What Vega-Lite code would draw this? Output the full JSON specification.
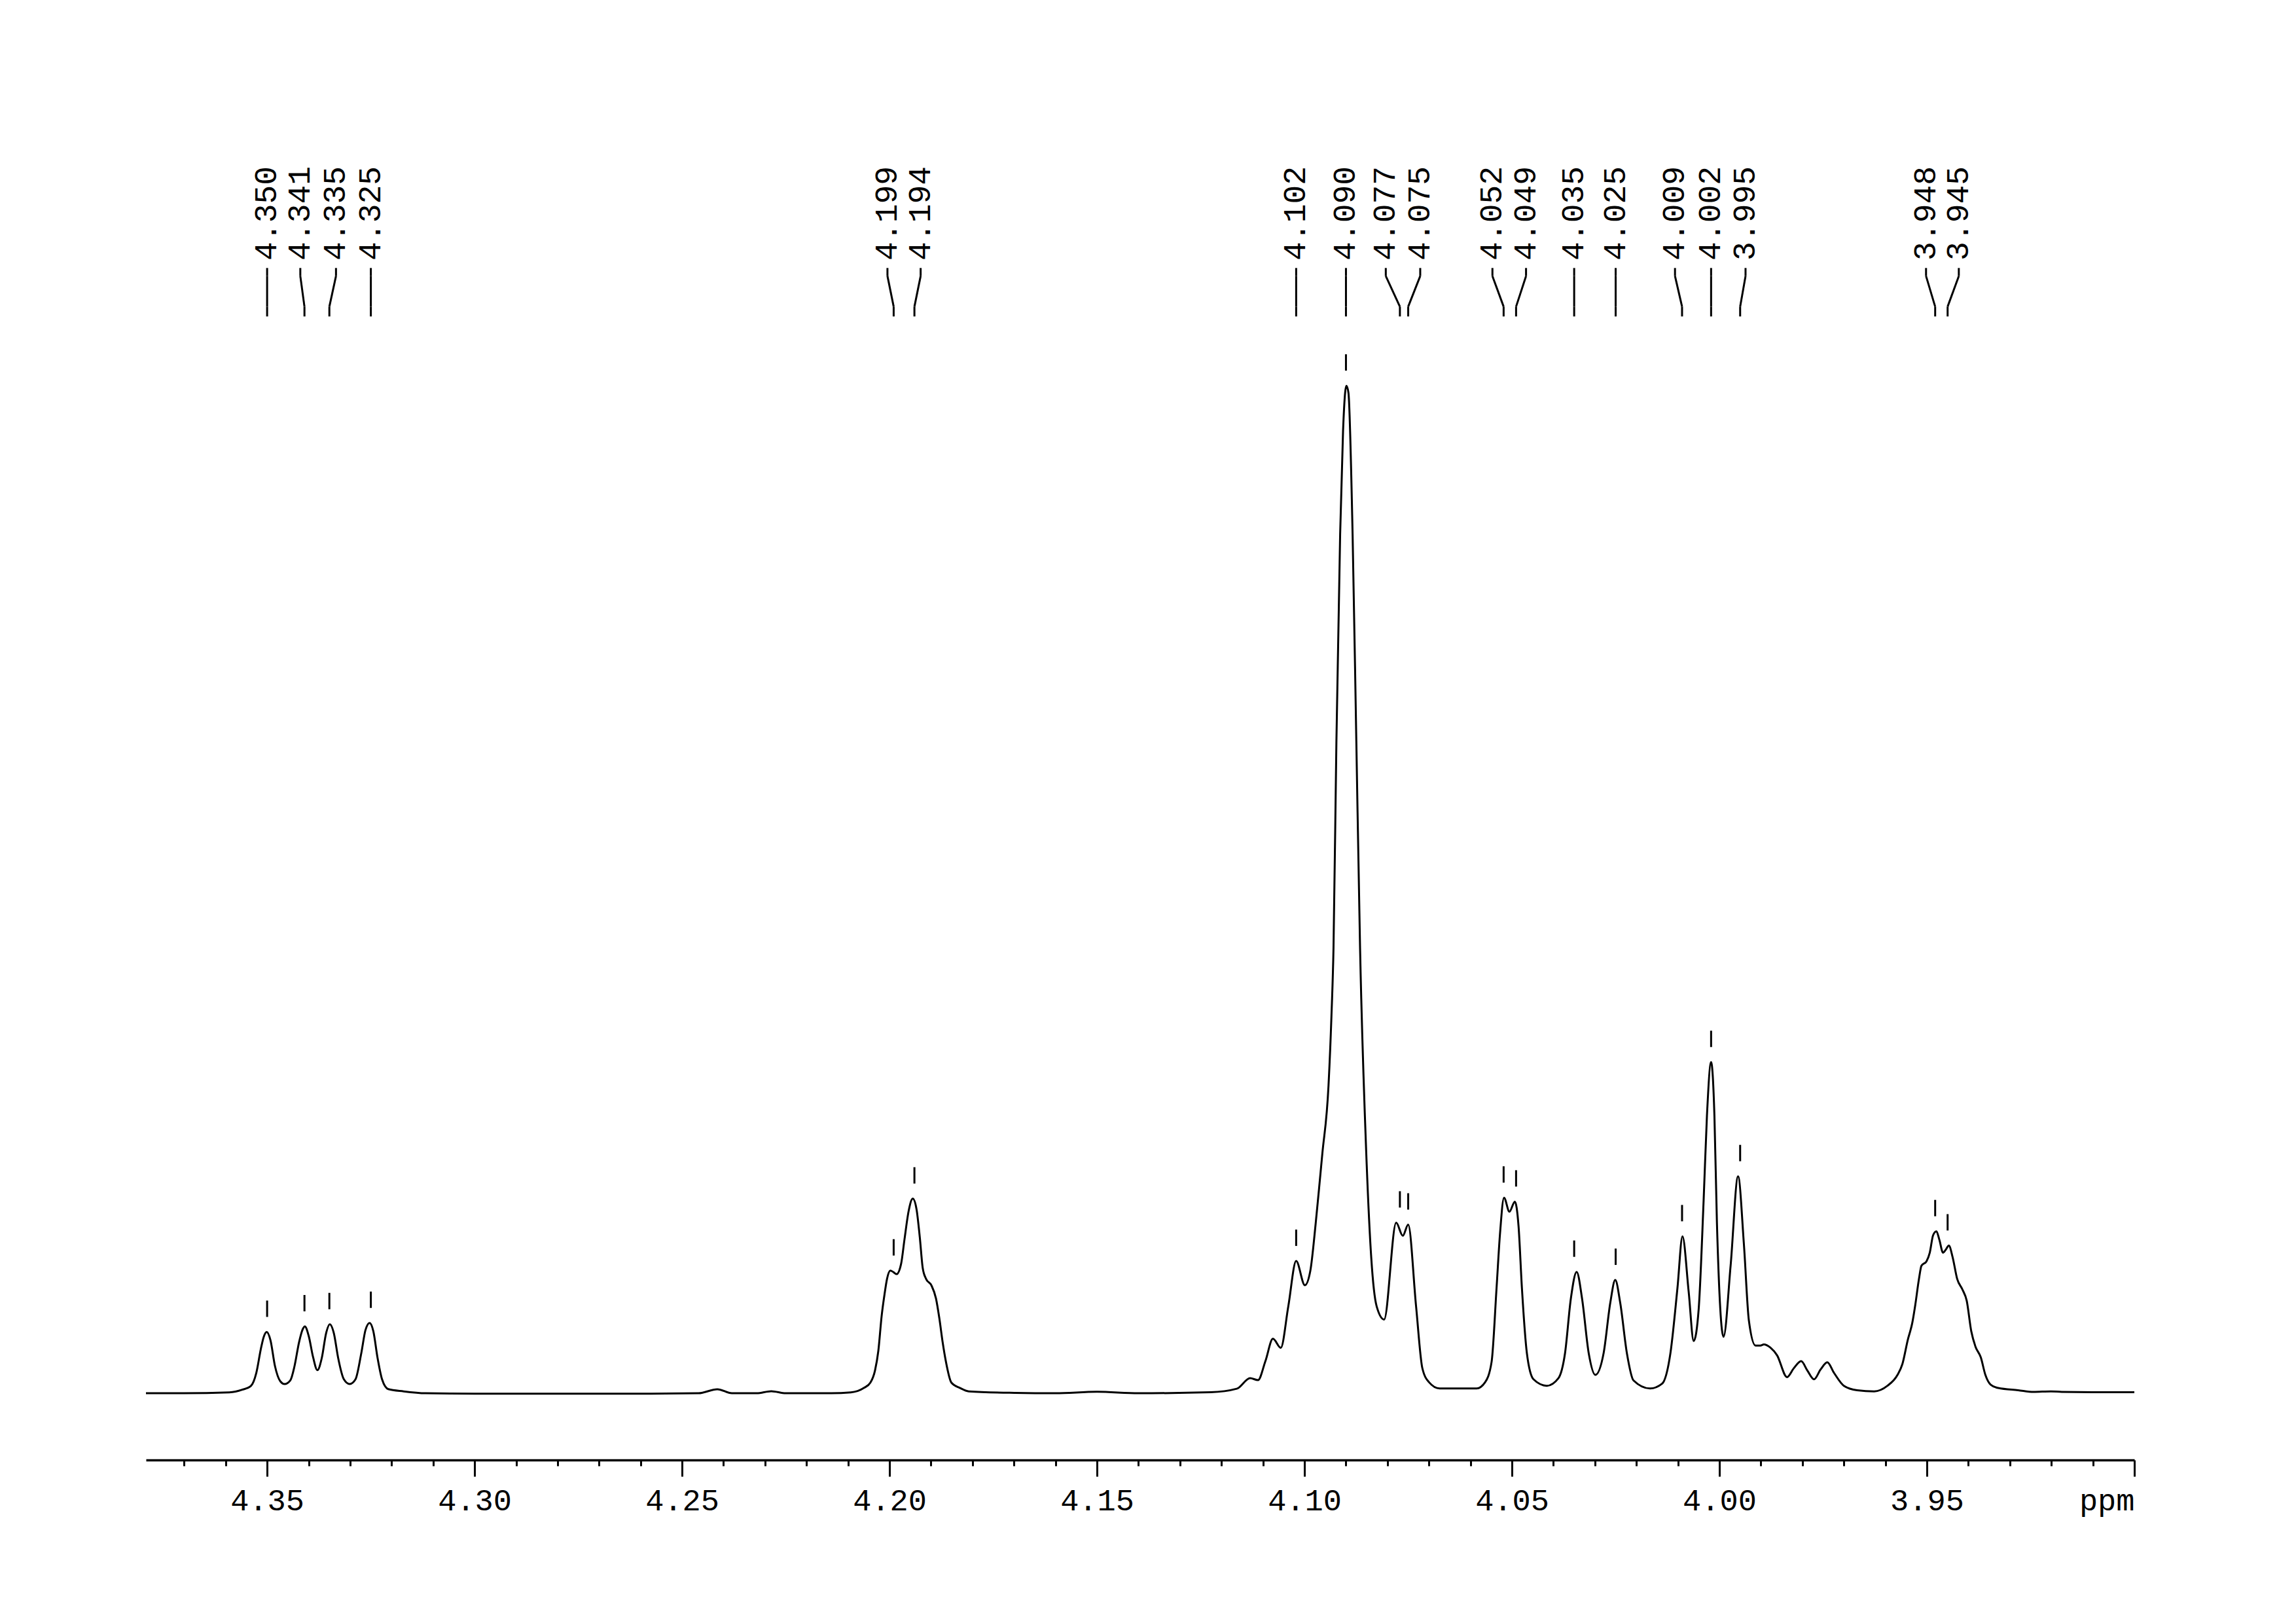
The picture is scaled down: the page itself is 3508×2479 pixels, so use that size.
{
  "$schema": "https://vega.github.io/schema/vega-lite/v6.json",
  "width": 3038,
  "height": 2130,
  "autosize": {"type": "none"},
  "padding": {"left": 223, "top": 100, "right": 247, "bottom": 249},
  "background": "white",
  "config": {"view": {"stroke": null}},
  "datasets": {
    "spectrum": [
      {"ppm": 4.3792, "i": 0.0}, {"ppm": 4.370, "i": 0.0}, {"ppm": 4.3591, "i": 0.09}, {"ppm": 4.3560, "i": 0.35},
      {"ppm": 4.3539, "i": 0.73}, {"ppm": 4.3526, "i": 2.03}, {"ppm": 4.3515, "i": 4.41}, {"ppm": 4.3508, "i": 5.60},
      {"ppm": 4.3501, "i": 6.07}, {"ppm": 4.3492, "i": 5.27}, {"ppm": 4.3481, "i": 2.68}, {"ppm": 4.3468, "i": 1.17},
      {"ppm": 4.3458, "i": 0.91}, {"ppm": 4.3444, "i": 1.28}, {"ppm": 4.3434, "i": 2.68}, {"ppm": 4.3423, "i": 5.06},
      {"ppm": 4.3414, "i": 6.36}, {"ppm": 4.3409, "i": 6.62}, {"ppm": 4.3400, "i": 5.71}, {"ppm": 4.3389, "i": 3.54},
      {"ppm": 4.3379, "i": 2.29}, {"ppm": 4.3368, "i": 3.54}, {"ppm": 4.3358, "i": 5.92}, {"ppm": 4.3349, "i": 6.83},
      {"ppm": 4.3339, "i": 5.92}, {"ppm": 4.3329, "i": 3.54}, {"ppm": 4.3315, "i": 1.38}, {"ppm": 4.3301, "i": 0.91},
      {"ppm": 4.3287, "i": 1.38}, {"ppm": 4.3273, "i": 3.98}, {"ppm": 4.3263, "i": 6.25}, {"ppm": 4.3253, "i": 6.96},
      {"ppm": 4.3244, "i": 6.14}, {"ppm": 4.3234, "i": 3.54}, {"ppm": 4.3223, "i": 1.38}, {"ppm": 4.3208, "i": 0.41},
      {"ppm": 4.3171, "i": 0.19}, {"ppm": 4.3118, "i": 0.0}, {"ppm": 4.300, "i": -0.05}, {"ppm": 4.280, "i": -0.05},
      {"ppm": 4.260, "i": -0.05}, {"ppm": 4.246, "i": 0.0}, {"ppm": 4.2415, "i": 0.4}, {"ppm": 4.238, "i": 0.0},
      {"ppm": 4.232, "i": 0.0}, {"ppm": 4.2285, "i": 0.2}, {"ppm": 4.225, "i": 0.0}, {"ppm": 4.215, "i": 0.0},
      {"ppm": 4.2093, "i": 0.09}, {"ppm": 4.2062, "i": 0.52}, {"ppm": 4.2046, "i": 1.06}, {"ppm": 4.2035, "i": 2.25},
      {"ppm": 4.2027, "i": 4.19}, {"ppm": 4.2019, "i": 7.65}, {"ppm": 4.2012, "i": 9.81}, {"ppm": 4.2006, "i": 11.33},
      {"ppm": 4.1998, "i": 12.15}, {"ppm": 4.1990, "i": 11.98}, {"ppm": 4.1983, "i": 11.80}, {"ppm": 4.1972, "i": 12.84},
      {"ppm": 4.1964, "i": 15.22}, {"ppm": 4.1954, "i": 18.03}, {"ppm": 4.1944, "i": 19.28}, {"ppm": 4.1935, "i": 18.25},
      {"ppm": 4.1927, "i": 15.43}, {"ppm": 4.1920, "i": 12.41}, {"ppm": 4.1912, "i": 11.33}, {"ppm": 4.1899, "i": 10.68},
      {"ppm": 4.1888, "i": 9.38}, {"ppm": 4.1880, "i": 7.44}, {"ppm": 4.1872, "i": 5.06}, {"ppm": 4.1864, "i": 3.11},
      {"ppm": 4.1851, "i": 1.06}, {"ppm": 4.1830, "i": 0.52}, {"ppm": 4.1809, "i": 0.19}, {"ppm": 4.1699, "i": 0.04},
      {"ppm": 4.160, "i": 0.0}, {"ppm": 4.150, "i": 0.15}, {"ppm": 4.140, "i": 0.0}, {"ppm": 4.1226, "i": 0.1},
      {"ppm": 4.1163, "i": 0.45}, {"ppm": 4.1131, "i": 1.5}, {"ppm": 4.1112, "i": 1.3}, {"ppm": 4.1094, "i": 3.2},
      {"ppm": 4.1076, "i": 5.4}, {"ppm": 4.1057, "i": 4.5}, {"ppm": 4.1039, "i": 8.6}, {"ppm": 4.1020, "i": 13.1},
      {"ppm": 4.0999, "i": 10.7}, {"ppm": 4.0986, "i": 12.1}, {"ppm": 4.0973, "i": 16.8}, {"ppm": 4.0965, "i": 20.2},
      {"ppm": 4.0957, "i": 23.7}, {"ppm": 4.0942, "i": 30.5}, {"ppm": 4.0935, "i": 37.3}, {"ppm": 4.0930, "i": 44.1},
      {"ppm": 4.0923, "i": 64.6}, {"ppm": 4.0914, "i": 85.1}, {"ppm": 4.0907, "i": 95.3}, {"ppm": 4.0902, "i": 99.1},
      {"ppm": 4.0899, "i": 99.8}, {"ppm": 4.0894, "i": 99.1}, {"ppm": 4.0884, "i": 85.1}, {"ppm": 4.0875, "i": 64.6},
      {"ppm": 4.0866, "i": 44.1}, {"ppm": 4.0851, "i": 23.7}, {"ppm": 4.0839, "i": 13.4}, {"ppm": 4.0826, "i": 8.6},
      {"ppm": 4.0808, "i": 7.3}, {"ppm": 4.0779, "i": 16.9}, {"ppm": 4.0763, "i": 15.6}, {"ppm": 4.0750, "i": 16.7},
      {"ppm": 4.0731, "i": 8.6}, {"ppm": 4.0716, "i": 2.5}, {"ppm": 4.0700, "i": 1.1}, {"ppm": 4.0674, "i": 0.47},
      {"ppm": 4.0585, "i": 0.47}, {"ppm": 4.0565, "i": 1.06}, {"ppm": 4.0549, "i": 3.11}, {"ppm": 4.0537, "i": 10.46},
      {"ppm": 4.0529, "i": 15.65}, {"ppm": 4.0519, "i": 19.37}, {"ppm": 4.0506, "i": 17.98}, {"ppm": 4.0493, "i": 18.98},
      {"ppm": 4.0484, "i": 16.52}, {"ppm": 4.0476, "i": 10.46}, {"ppm": 4.0464, "i": 3.98}, {"ppm": 4.0448, "i": 1.38},
      {"ppm": 4.0416, "i": 0.74}, {"ppm": 4.0388, "i": 1.49}, {"ppm": 4.0372, "i": 3.98}, {"ppm": 4.0358, "i": 9.38},
      {"ppm": 4.0344, "i": 12.02}, {"ppm": 4.0331, "i": 9.38}, {"ppm": 4.0315, "i": 3.98}, {"ppm": 4.0299, "i": 1.82},
      {"ppm": 4.0279, "i": 3.98}, {"ppm": 4.0263, "i": 8.95}, {"ppm": 4.0251, "i": 11.22}, {"ppm": 4.0239, "i": 8.95},
      {"ppm": 4.0223, "i": 3.98}, {"ppm": 4.0207, "i": 1.27}, {"ppm": 4.0167, "i": 0.47}, {"ppm": 4.0138, "i": 0.95},
      {"ppm": 4.0118, "i": 3.98}, {"ppm": 4.0101, "i": 10.46}, {"ppm": 4.0089, "i": 15.54}, {"ppm": 4.0074, "i": 10.03},
      {"ppm": 4.0062, "i": 5.17}, {"ppm": 4.0050, "i": 8.30}, {"ppm": 4.0038, "i": 19.11}, {"ppm": 4.0030, "i": 27.5},
      {"ppm": 4.0020, "i": 32.8}, {"ppm": 4.0012, "i": 27.5}, {"ppm": 4.0006, "i": 16.95}, {"ppm": 3.9990, "i": 5.60},
      {"ppm": 3.9973, "i": 12.62}, {"ppm": 3.9955, "i": 21.49}, {"ppm": 3.9941, "i": 14.79}, {"ppm": 3.9929, "i": 7.22},
      {"ppm": 3.9913, "i": 4.73}, {"ppm": 3.9901, "i": 4.73}, {"ppm": 3.9893, "i": 4.84}, {"ppm": 3.9877, "i": 4.52},
      {"ppm": 3.9861, "i": 3.76}, {"ppm": 3.9837, "i": 1.60}, {"ppm": 3.9821, "i": 2.46}, {"ppm": 3.9803, "i": 3.18},
      {"ppm": 3.9788, "i": 2.25}, {"ppm": 3.9772, "i": 1.38}, {"ppm": 3.9756, "i": 2.36}, {"ppm": 3.9740, "i": 3.07},
      {"ppm": 3.9724, "i": 2.03}, {"ppm": 3.9700, "i": 0.74}, {"ppm": 3.9668, "i": 0.30}, {"ppm": 3.9627, "i": 0.19},
      {"ppm": 3.9595, "i": 0.74}, {"ppm": 3.9571, "i": 1.8}, {"ppm": 3.9559, "i": 2.89}, {"ppm": 3.9546, "i": 5.28},
      {"ppm": 3.9535, "i": 7.0}, {"ppm": 3.9528, "i": 8.73}, {"ppm": 3.9519, "i": 11.33}, {"ppm": 3.9513, "i": 12.63},
      {"ppm": 3.9501, "i": 13.06}, {"ppm": 3.9493, "i": 13.92}, {"ppm": 3.9485, "i": 15.65}, {"ppm": 3.9477, "i": 16.04},
      {"ppm": 3.9470, "i": 15.22}, {"ppm": 3.9461, "i": 13.92}, {"ppm": 3.9454, "i": 14.25}, {"ppm": 3.9447, "i": 14.63},
      {"ppm": 3.9438, "i": 13.49}, {"ppm": 3.9427, "i": 11.33}, {"ppm": 3.9414, "i": 10.25}, {"ppm": 3.9404, "i": 9.17},
      {"ppm": 3.9393, "i": 6.14}, {"ppm": 3.9383, "i": 4.63}, {"ppm": 3.9370, "i": 3.55}, {"ppm": 3.9359, "i": 1.82},
      {"ppm": 3.9346, "i": 0.84}, {"ppm": 3.9328, "i": 0.52}, {"ppm": 3.9280, "i": 0.30}, {"ppm": 3.9243, "i": 0.13},
      {"ppm": 3.9201, "i": 0.19}, {"ppm": 3.9175, "i": 0.13}, {"ppm": 3.910, "i": 0.1}, {"ppm": 3.900, "i": 0.1}
    ],
    "peaks": [
      {"label": "4.350", "ppm": 4.350, "lx": 4.3500, "h": 6.07},
      {"label": "4.341", "ppm": 4.341, "lx": 4.3420, "h": 6.62},
      {"label": "4.335", "ppm": 4.335, "lx": 4.3334, "h": 6.83},
      {"label": "4.325", "ppm": 4.325, "lx": 4.3250, "h": 6.96},
      {"label": "4.199", "ppm": 4.199, "lx": 4.2005, "h": 12.15},
      {"label": "4.194", "ppm": 4.194, "lx": 4.1925, "h": 19.28},
      {"label": "4.102", "ppm": 4.102, "lx": 4.1020, "h": 13.1},
      {"label": "4.090", "ppm": 4.090, "lx": 4.0900, "h": 99.8},
      {"label": "4.077", "ppm": 4.077, "lx": 4.0804, "h": 16.9},
      {"label": "4.075", "ppm": 4.075, "lx": 4.0721, "h": 16.7},
      {"label": "4.052", "ppm": 4.052, "lx": 4.0547, "h": 19.37},
      {"label": "4.049", "ppm": 4.049, "lx": 4.0466, "h": 18.98},
      {"label": "4.035", "ppm": 4.035, "lx": 4.0350, "h": 12.02},
      {"label": "4.025", "ppm": 4.025, "lx": 4.0250, "h": 11.22},
      {"label": "4.009", "ppm": 4.009, "lx": 4.0107, "h": 15.54},
      {"label": "4.002", "ppm": 4.002, "lx": 4.0020, "h": 32.8},
      {"label": "3.995", "ppm": 3.995, "lx": 3.9937, "h": 21.49},
      {"label": "3.948", "ppm": 3.948, "lx": 3.9502, "h": 16.04},
      {"label": "3.945", "ppm": 3.945, "lx": 3.9423, "h": 14.63}
    ]
  },
  "layer": [
    {
      "data": {"name": "spectrum"},
      "mark": {"type": "line", "color": "black", "strokeWidth": 3, "interpolate": "monotone"},
      "encoding": {
        "x": {
          "field": "ppm", "type": "quantitative",
          "scale": {"domain": [3.9, 4.3792], "reverse": true, "nice": false, "zero": false},
          "axis": {
            "title": null,
            "grid": false,
            "values": [4.37, 4.36, 4.35, 4.34, 4.33, 4.32, 4.31, 4.30, 4.29, 4.28, 4.27, 4.26, 4.25, 4.24, 4.23, 4.22, 4.21, 4.20, 4.19, 4.18, 4.17, 4.16, 4.15, 4.14, 4.13, 4.12, 4.11, 4.10, 4.09, 4.08, 4.07, 4.06, 4.05, 4.04, 4.03, 4.02, 4.01, 4.00, 3.99, 3.98, 3.97, 3.96, 3.95, 3.94, 3.93, 3.92, 3.91, 3.90],
            "domainColor": "black",
            "domainWidth": 3.5,
            "tickColor": "black",
            "tickWidth": 3,
            "tickSize": {"condition": {"test": "round(datum.value*100) % 5 == 0", "value": 25}, "value": 9},
            "labelExpr": "round(datum.value*100) % 5 == 0 ? (datum.value < 3.905 ? 'ppm' : format(datum.value, '.2f')) : ''",
            "labelFont": "Liberation Mono",
            "labelFontSize": 47,
            "labelColor": "black",
            "labelPadding": 14,
            "labelFlush": true,
            "labelOverlap": false,
            "labelBound": false
          }
        },
        "y": {
          "field": "i", "type": "quantitative",
          "scale": {"domain": [-6.61, 131.52], "nice": false, "zero": false},
          "axis": null
        }
      }
    },
    {
      "data": {"name": "peaks"},
      "mark": {"type": "rule", "color": "black", "strokeWidth": 3, "yOffset": -23, "y2Offset": -48},
      "encoding": {
        "x": {"field": "ppm", "type": "quantitative"},
        "y": {"field": "h", "type": "quantitative", "axis": null},
        "y2": {"field": "h"}
      }
    },
    {
      "data": {"name": "peaks"},
      "mark": {"type": "rule", "color": "black", "strokeWidth": 3},
      "encoding": {
        "x": {"field": "lx", "type": "quantitative"},
        "y": {"datum": 111.46, "type": "quantitative", "axis": null},
        "y2": {"datum": 110.66}
      }
    },
    {
      "data": {"name": "peaks"},
      "mark": {"type": "rule", "color": "black", "strokeWidth": 3},
      "encoding": {
        "x": {"field": "lx", "type": "quantitative"},
        "x2": {"field": "ppm"},
        "y": {"datum": 110.66, "type": "quantitative", "axis": null},
        "y2": {"datum": 107.63}
      }
    },
    {
      "data": {"name": "peaks"},
      "mark": {"type": "rule", "color": "black", "strokeWidth": 3},
      "encoding": {
        "x": {"field": "ppm", "type": "quantitative"},
        "y": {"datum": 107.63, "type": "quantitative", "axis": null},
        "y2": {"datum": 106.66}
      }
    },
    {
      "data": {"name": "peaks"},
      "mark": {"type": "text", "angle": 270, "align": "left", "baseline": "middle", "font": "Liberation Mono", "fontSize": 48, "color": "black"},
      "encoding": {
        "x": {"field": "lx", "type": "quantitative"},
        "y": {"datum": 112.2, "type": "quantitative", "axis": null},
        "text": {"field": "label"}
      }
    }
  ]
}
